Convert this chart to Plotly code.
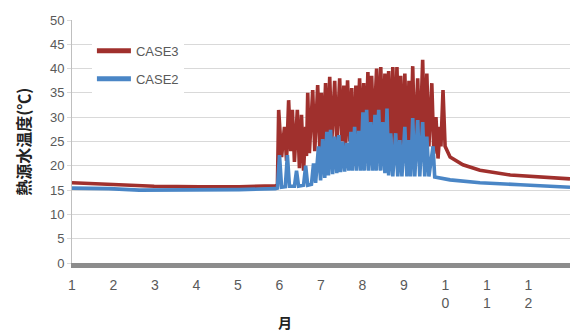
import plotly.graph_objects as go

# month position (1 = start of January, 13 = end of December)
case3_x = [1.00, 1.65, 2.01, 2.50, 2.98, 4.07, 5.03, 5.90, 5.95, 5.98, 6.05, 6.12, 6.17, 6.22, 6.27, 6.31,
           6.36, 6.43, 6.48, 6.53, 6.58, 6.63, 6.65, 6.68, 6.72, 6.80, 6.85, 6.92, 6.97, 7.01, 7.06, 7.11,
           7.16, 7.21, 7.26, 7.33, 7.38, 7.45, 7.50, 7.55, 7.59, 7.64, 7.69, 7.74, 7.79, 7.84, 7.88, 7.93,
           7.98, 8.03, 8.08, 8.13, 8.17, 8.22, 8.27, 8.34, 8.39, 8.44, 8.49, 8.54, 8.59, 8.63, 8.68, 8.73,
           8.78, 8.83, 8.88, 8.92, 8.97, 9.02, 9.07, 9.12, 9.16, 9.21, 9.26, 9.33, 9.38, 9.45, 9.50, 9.55,
           9.60, 9.67, 9.72, 9.77, 9.82, 9.87, 9.89, 9.94, 9.99, 10.11, 10.42, 10.83, 11.56, 13.00]
case3_y = [16.5, 16.3, 16.1, 15.9, 15.8, 15.7, 15.7, 15.9, 16.0, 31.5, 21.8, 28, 21, 33.5, 23, 31.5,
           20.8, 31.5, 19.5, 30.5, 19, 28, 22, 35, 22.6, 35.6, 23, 36.6, 23.5, 35, 24, 37,
           24, 38.3, 25, 37.5, 24.5, 38, 25, 36.5, 24, 37.6, 25, 36, 20, 36.5, 25, 38,
           25.5, 37, 25, 39.3, 26, 38.5, 26.5, 40, 26, 40.3, 25, 39, 24.5, 39.5, 24, 40.3,
           24, 40.3, 23.5, 38.5, 23.5, 39, 24, 37.5, 24, 40.5, 23, 38, 23, 41.8, 23, 39,
           24, 37, 22.5, 30, 21.5, 28, 24, 35.6, 24, 21.8, 20.2, 19.1, 18.1, 17.3]

case2_x = [1.00, 1.89, 2.62, 4.07, 5.03, 5.90, 5.95, 6.00, 6.05, 6.14, 6.19, 6.24, 6.36, 6.41, 6.46, 6.58,
           6.63, 6.68, 6.77, 6.82, 6.87, 6.94, 6.99, 7.04, 7.09, 7.14, 7.18, 7.23, 7.28, 7.33, 7.38, 7.43,
           7.47, 7.52, 7.57, 7.62, 7.67, 7.72, 7.76, 7.81, 7.86, 7.91, 7.96, 8.01, 8.05, 8.10, 8.15, 8.20,
           8.25, 8.30, 8.34, 8.39, 8.44, 8.49, 8.54, 8.59, 8.63, 8.68, 8.73, 8.80, 8.85, 8.90, 8.95, 9.02,
           9.07, 9.12, 9.16, 9.21, 9.26, 9.33, 9.38, 9.45, 9.50, 9.55, 9.60, 9.70, 9.74, 10.11, 10.83, 11.80,
           13.00]
case2_y = [15.4, 15.3, 15.0, 15.0, 15.1, 15.3, 15.4, 22.2, 15.6, 15.7, 22.2, 15.8, 15.8, 19, 15.8, 16,
           20, 16, 16.2, 20.5, 16.5, 24, 17, 25.5, 17.5, 27, 18, 27.4, 18.3, 26, 18.5, 26.3,
           18.7, 25, 18.8, 24.7, 19, 27, 19, 28, 19, 27.2, 19, 31, 19, 31.5, 19, 29,
           19, 30.5, 19, 31.5, 19, 29, 18.5, 31.8, 18, 26.7, 17.8, 26.7, 17.8, 25.3, 17.8, 28,
           17.8, 25.3, 17.8, 29.8, 17.8, 29.4, 17.8, 29, 17.8, 26, 17.8, 24, 17.7, 17.1, 16.5, 16.1,
           15.6]

month_ticks = list(range(1, 13))
month_labels = ["1", "2", "3", "4", "5", "6", "7", "8", "9", "1<br>0", "1<br>1", "1<br>2"]
y_ticks = list(range(0, 51, 5))

series_names = ["CASE3", "CASE2"]
RED = "#a0302d"
BLUE = "#4a86c6"
FONT = "Liberation Sans"
GRAY_TXT = "#595959"

fig = go.Figure()
fig.add_trace(go.Scatter(x=case3_x, y=case3_y, mode="lines", name=series_names[0],
                         legendgroup="a", line=dict(color=RED, width=3.6)))
fig.add_trace(go.Scatter(x=case2_x, y=case2_y, mode="lines", name=series_names[1],
                         legendgroup="b", line=dict(color=BLUE, width=3.6)))

fig.update_layout(
    width=573, height=333,
    margin=dict(l=72, r=3, t=20, b=70),
    paper_bgcolor="white", plot_bgcolor="white",
    showlegend=True,
    legend=dict(x=0.04, y=0.935, xanchor="left", yanchor="top",
                bgcolor="white", font=dict(family=FONT, size=13, color=GRAY_TXT),
                itemwidth=34, tracegroupgap=8, itemsizing="constant",
                traceorder="grouped"),
    font=dict(family=FONT, color=GRAY_TXT),
)
fig.update_xaxes(range=[1, 13.0], tickmode="array", tickvals=month_ticks, ticktext=month_labels,
                 showgrid=False, zeroline=False, showline=True, linecolor="#8c8c8c", linewidth=5,
                 ticks="", tickfont=dict(family=FONT, size=14, color=GRAY_TXT), ticklabelstandoff=5)
fig.update_yaxes(range=[0, 50], tickmode="array", tickvals=y_ticks,
                 showgrid=True, gridcolor="#d9d9d9", gridwidth=1.3, zeroline=False,
                 showline=True, linecolor="#bfbfbf", linewidth=1,
                 ticks="outside", ticklen=4, tickcolor="#d9d9d9",
                 tickfont=dict(family=FONT, size=13, color=GRAY_TXT))

fig.add_annotation(text="<b>熱源水温度(℃)</b>", textangle=-90, xref="paper", yref="paper",
                   x=-0.1, y=0.5, showarrow=False, xanchor="center", yanchor="middle",
                   font=dict(family="Noto Sans CJK JP", size=16, color="#222222"))
fig.add_annotation(text="<b>月</b>", xref="paper", yref="paper", x=0.428, y=-0.243,
                   showarrow=False, xanchor="center", yanchor="middle",
                   font=dict(family="Noto Sans CJK JP", size=14, color="#222222"))

fig.write_html("out.html")
